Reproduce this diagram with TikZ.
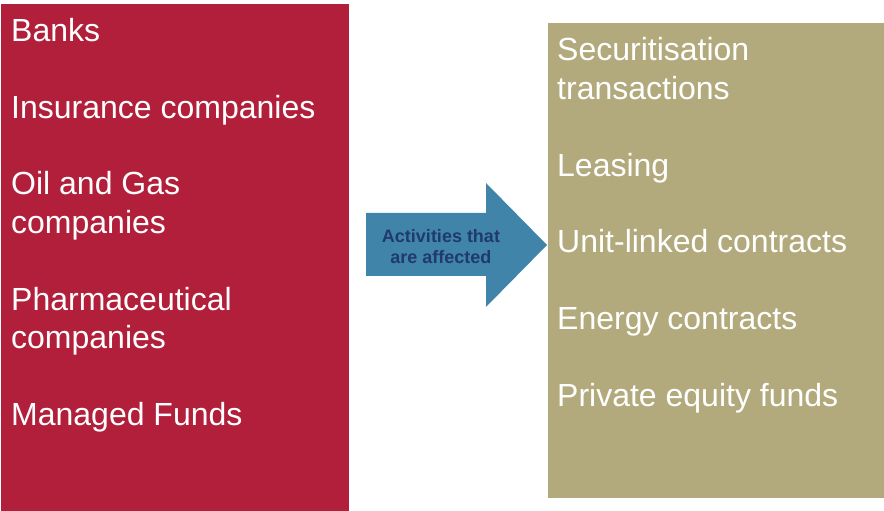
\documentclass[tikz,border=0pt]{standalone}
\usepackage{fontspec}
\setmainfont{Liberation Sans}
\usetikzlibrary{positioning}
\definecolor{bankred}{HTML}{B21F3B}
\definecolor{sand}{HTML}{B2AA7C}
\definecolor{arrowblue}{HTML}{4184AA}
\definecolor{navy}{HTML}{1F3A6B}
\tikzset{
  listbox/.style={rectangle, inner sep=0pt, anchor=north west},
  listtext/.style={anchor=north west, inner sep=0pt, align=left, text=white,
    font=\fontsize{32}{38.4}\selectfont},
}

\begin{document}
\begin{tikzpicture}[x=1pt,y=1pt]
\useasboundingbox (0,0) rectangle (884,511);

% the two boxes
\node[listbox, fill=bankred, minimum width=348pt, minimum height=507pt] (firms) at (1,507) {};
\node[listbox, fill=sand, minimum width=336pt, minimum height=475pt] (deals) at (548,488) {};

% their lists
\node[listtext] (firmlist) at (11,493) {Banks\\[38.4pt]Insurance companies\\[38.4pt]Oil and Gas\\companies\\[38.4pt]Pharmaceutical\\companies\\[38.4pt]Managed Funds};
\node[listtext] (deallist) at (557,473.5) {Securitisation\\transactions\\[38.4pt]Leasing\\[38.4pt]Unit-linked contracts\\[38.4pt]Energy contracts\\[38.4pt]Private equity funds};

% arrow between them
\fill[arrowblue] (366,298) -- (486,298) -- (486,328) -- (547,266)
  -- (486,204) -- (486,235) -- (366,235) -- cycle;
\node[align=center, text=navy, inner sep=0pt, font=\fontsize{18}{21}\bfseries\selectfont]
  (affected) at (441,264) {Activities that\\are affected};

\end{tikzpicture}
\end{document}
